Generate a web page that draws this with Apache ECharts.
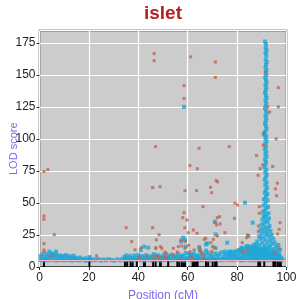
<!DOCTYPE html>
<html lang="en">
  <head>
    <meta charset="UTF-8" />
    <title>islet</title>
    <style type="text/css">
      body { margin: 0; background-color: #fff; }
      #main { width: 296px; height: 299px; }
    </style>
  </head>
  <body>
    <div id="main"></div>
    <script src="https://cdn.jsdelivr.net/npm/echarts@6/dist/echarts.min.js"></script>
    <script type="text/javascript">
      // marker positions (rug along the bottom)
      var rugPos = [1.8, 20.2, 34.6, 35.5, 36.9, 37.7, 39.4, 42.3, 42.7, 46, 47, 48.8, 49.1, 52.1,
        55.8, 56.6, 57.6, 58.2, 58.9, 62, 62.6, 63.4, 64, 67.4, 68.3, 70.1, 71.1, 71.7,
        88.6, 89.3, 91, 94.7, 95.3, 96.3, 97.1, 97.7];

      // low LOD band, blue
      var blueBand = [
        [0.5,5.5],[0.5,8.5],[1.2,6.2],[1.2,9.8],[2,5],[2,7.8],[2.8,6.5],[2.8,10.2],[3.5,5.3],[3.5,8.1],
        [4.3,6.8],[4.3,9.4],[5.1,5.6],[5.1,10.5],[5.9,7.2],[5.9,8.8],[6.7,5.1],[6.7,9.6],[7.5,6.3],[7.5,8.2],
        [8.3,5.4],[8.3,9],[9.1,6.9],[9.1,7.9],[9.9,5.2],[9.9,8.6],[10.7,6],[10.7,9.3],[11.5,5.5],[11.5,7.6],
        [12.3,6.6],[12.3,8.4],[13.1,5],[13.1,7.2],[13.9,6.2],[13.9,8.8],[14.7,5.4],[14.7,7],[15.5,6],
        [16.3,5.2],[16.3,7.4],[17.1,6.3],[17.9,5.6],[18.7,6.8],[18.7,4.9],[19.5,5.5],[20.3,6.4],[20.3,7.8],
        [21.1,5.1],[21.9,6],[22.8,5.4],[23.8,6.2],[24.8,5],[25.8,5.8],[26.9,5.3],[28,6.1],[29.1,5.5],
        [30.3,5],[31.5,5.9],[32.6,5.3],[33.6,6.4],[34.4,5.2],[34.4,7.8],[35.2,6.1],[35.2,9],[36,5.4],[36,7.3],
        [36.8,6.6],[36.8,8.5],[37.6,5.1],[37.6,7],[38.4,6],[38.4,8.9],[39.2,5.6],[39.2,7.6],[40,6.8],[40,9.5],
        [40.8,5.3],[40.8,7.9],[41.6,6.4],[41.6,8.4],[42.4,5],[42.4,7.1],[43.2,6.2],[43.2,9.2],[44,5.7],[44,8],
        [44.8,6.9],[44.8,7.4],[45.6,5.2],[45.6,8.7],[46.4,6.5],[46.4,10],[47.2,5.5],[47.2,7.7],[48,6.1],[48,9.1],
        [48.8,5],[48.8,8.2],[49.6,6.7],[49.6,7.3],[50.4,5.4],[50.4,9.4],[51.2,6.3],[51.2,8],[52,5.8],[52,7.2],
        [52.8,6.6],[52.8,8.8],[53.6,5.1],[53.6,9.6],[54.4,6],[54.4,7.5],[55.2,5.6],[55.2,8.4],[56,6.9],[56,10.1],
        [56.8,5.3],[56.8,7.8],[57.6,6.2],[57.6,9],[58.4,5],[58.4,8.3],[59.2,6.4],[59.2,11],[60,5.7],[60,7.4],
        [60.8,6.8],[60.8,9.3],[61.6,5.2],[61.6,8.1],[62.4,6.1],[62.4,10.4],[63.2,5.5],[63.2,7.6],[64,6.7],[64,9],
        [64.8,5.9],[64.8,8.2],[65.6,5.3],[65.6,10.8],[66.4,6.4],[66.4,7.9],[67.2,5.6],[67.2,9.5],[68,6.2],[68,11.2],
        [68.8,5.1],[68.8,8.4],[69.6,6.8],[69.6,9.8],[70.4,5.4],[70.4,7.7],[71.2,6],[71.2,10.6],[72,5.8],[72,8.6],
        [72.8,6.5],[72.8,9.9],[73.6,5.2],[73.6,11.4],[74.4,6.3],[74.4,8],[75.2,5.7],[75.2,10.2],[76,6.9],[76,8.8],
        [76.8,5.5],[76.8,11.8],[76.8,9.6],[77.6,6.2],[77.6,7.9],[77.6,10.9],[78.4,5.3],[78.4,8.6],[78.4,12],
        [79.2,6.6],[79.2,9.4],[79.2,11.2],[80,5.8],[80,8.1],[80,12.6],[80.8,6.4],[80.8,10],[80.8,13.1],
        [81.6,5.1],[81.6,7.6],[81.6,11.6],[81.6,14],[82.4,6],[82.4,9.2],[82.4,12.8],[83.2,5.5],[83.2,8.3],
        [83.2,10.7],[83.2,14.5],[84,6.7],[84,9.7],[84,12.2],[84,15.2],[85,5.4],[85,8],[85,11],[85,13.8],[85,16],
        [85.8,6.3],[85.8,9.5],[85.8,12.4],[85.8,15],[86.6,5.2],[86.6,7.8],[86.6,10.6],[86.6,13.4],[86.6,17],
        [87.4,6.6],[87.4,9],[87.4,12],[87.4,14.6],[88.2,5.6],[88.2,8.4],[88.2,11.3],[88.2,15.8],[89,6.2],[89,9.6],
        [89,13],[89.8,5.1],[89.8,7.4],[89.8,11],[89.8,14],[90.6,6.8],[90.6,8.8],[90.6,12.6],[91.4,5.4],[91.4,10.2],
        [91.4,13.6],[92.2,6],[92.2,8],[92.2,11.8],[93,5.3],[93,9.4],[93,13.2],[93,15.6],[93.8,6.5],[93.8,7.6],
        [93.8,10.8],[94.6,5.8],[94.6,8.9],[94.6,12.4],[95.4,6.3],[95.4,9.9],[96.2,5.5],[96.2,8.2],[96.2,11.5],
        [97,6.9],[97,9],[97.8,5.2],[97.8,7.5],[98.4,6]
      ];

      // the peak near the end of the chromosome, blue
      var bluePeak = [
        [91.3,176],[91.7,174],[91.6,171],[91.9,169],[91.5,167],[91.8,165],[91.6,162],[92,160],[91.7,158],[91.5,156],
        [91.9,154],[91.6,152],[91.8,150],[91.4,148],[91.7,146],[91.9,144],[91.5,142],[91.8,140],[91.6,138],[91.3,136],
        [91.7,134],[91.9,132],[91.5,130],[91.8,128],[91.6,126],[91.3,124],[91.7,122],[92,120],[91.5,118],[91.8,116],
        [91.6,114],[91.3,112],[91.7,110],[91.9,108],[91.5,106],[90.8,104],[91.2,103],[91.8,102],[91.5,100],[91.9,98],
        [91.4,96],[91.7,94],[91.2,92],[91.8,90],[91.5,88],[91.9,86],[91.3,84],[91.7,82],[91.5,80],[91.1,78],
        [91.8,76],[91.4,74],[92,72],[91.6,70],[91.2,68],[91.9,66],[91.4,64],[92.1,62],[91.6,60],[91.2,58],
        [92.2,57],[91.7,55],[90.9,53],[92.3,52],[91.5,50],[90.7,48],[92.5,47],[91.8,46],[91.2,44],[90.5,43],
        [92.7,42],[91.9,41],[90.8,40],[91.4,39],[92.9,38],[90.2,37],[91.7,36],[92.4,35],[90.9,34],[89.9,33],
        [93.1,32],[91.5,31],[92.6,30],[90.4,30],[89.5,29],[93.5,28],[91.1,28],[92.2,27],[90,26],[94,25],
        [91.8,25],[88.9,24],[92.9,24],[90.6,23],[94.6,22],[89.5,22],[91.5,21],[93.4,21],[88.2,20],[95.2,19],
        [90.2,19],[92.4,19],[87.6,18],[94.1,18],[91.2,17],[89,17],[93.2,16],[95.8,16],[87,15],[90.5,15],
        [92,14.5],[94.7,14],[88.2,14],[86.2,13],[96.2,13],[91.3,12.5],[89.4,12],[93.6,12],[85.4,11.5],[87.7,11],
        [95.3,11],[92.5,10.5],[90.4,10],[97,10],[84.6,10],[88.9,9.5],[94.2,9.5],[86.6,9],[91.6,9],[96,8.5]
      ];

      // scattered blue points off the band
      var blueOut = [
        [58.5,125],[4,12],[6.7,12],[4.9,9.9],[58.2,22.9],[57.3,19.8],[59.2,15.9],[42.3,15.9],[44,15.1],[41,13.3],
        [67.9,18.5],[67.4,12.8],[65,12.8],[60.5,10.7],[61.6,9.4],[63.6,8.6],[83.2,50.2],[71.3,25.5],[86.3,34.6],
        [84.5,24.2],[67.4,17.7],[76,19],[70.8,15.1],[75.1,12],[77.1,12],[81.2,13.3],[85.9,14.6],[96.7,17.2],
        [97.4,13.3],[71,35.4],[58.9,21],[81.9,15.1],[83.9,16.4],[64.7,14.6]
      ];

      // second group, red-brown
      var redPts = [
        [1.8,74.5],[3.4,76],[1.8,39.8],[1.8,37.2],[6,25.3],[1.8,18.3],[1.8,13.3],[1.8,12],[4.9,8.6],[23.1,8.8],
        [35.1,30.7],[37.3,19.8],[38.7,13.4],[41.1,15.1],[40.4,7.6],[43.4,8.6],[45.8,30.7],[45.8,62],[48.8,62.7],
        [46.4,166.6],[46.4,161],[47,94],[48.4,25.3],[47.3,21.2],[47.2,15],[49,15.9],[49.5,14.6],[47,14.6],
        [50.8,11.7],[51.5,10.5],[47.2,8.6],[46.1,6.8],[48.5,7.6],[51.5,6.8],[50.8,7.6],[54.2,14.6],[55.8,11.7],
        [54.2,9.4],[56.2,15.9],[57.6,16.4],[57.3,21.1],[59,19.8],[60.4,17],[58.9,14.6],[56.9,6],[60.9,12],
        [62.6,13.3],[61.6,7.6],[65,12.8],[64.7,15.9],[66.1,9.4],[66.3,6.8],[65.7,10.7],[58.8,30.7],[60.2,26.8],
        [62.3,28.9],[63.8,26.3],[67.3,22.4],[66.7,21.6],[58,38.5],[59.7,36.7],[58.5,42.4],[66.2,47.1],[58.9,59.6],
        [63.6,59.6],[61.2,164],[71.2,160],[71.2,148],[58.5,141.6],[58.5,131.5],[64.6,92.7],[76.8,94],[60.9,79.1],
        [63.9,76.7],[71.5,67.4],[72.1,66.5],[69.2,62.2],[69.7,58],[72,38.5],[72.9,39.3],[71.1,34.6],[71.7,32.8],
        [73.1,33.6],[78.9,38],[79.1,49.8],[80.2,48.4],[75.1,26.8],[72,24.2],[70.4,21.6],[69.4,19],[70.1,15.9],
        [71.5,14.6],[69.7,12],[84.3,25],[83.9,22.9],[82.1,19],[82.5,12],[84.5,13.3],[88.6,32],[88.6,27.6],
        [89,47.1],[89,42],[87.9,87],[89.3,76.8],[88.5,71.6],[90.4,79.7],[94.4,78.4],[96.7,140],[96.7,125],
        [93.2,121],[95.8,100],[96.3,65.4],[95.5,61],[96,55.6],[97.4,34.6],[97,29.4],[96.4,25.8],[97,14.6],
        [95.3,10.2],[91.5,152],[91,105],[92.4,125],[90.6,95]
      ];

      var yTicks = [0, 25, 50, 75, 100, 125, 150, 175];
      var xTicks = [0, 20, 40, 60, 80, 100];

      var chart = echarts.init(document.getElementById("main"), null, { renderer: "canvas" });

      var option = {
        animation: false,
        backgroundColor: "#fff",
        title: {
          text: "islet",
          left: 163,
          top: 4,
          padding: 0,
          textAlign: "center",
          textStyle: { color: "#b22222", fontSize: 19, fontWeight: "bold", fontFamily: "Liberation Sans, Arial, sans-serif" }
        },
        grid: {
          left: 39.5, right: 9.5, top: 30.5, bottom: 32,
          containLabel: false, outerBoundsMode: "none",
          show: true, backgroundColor: "#cccccc", borderColor: "#1a1a1a", borderWidth: 1.5
        },
        xAxis: {
          type: "value", min: 0, max: 100, interval: 20,
          name: "Position (cM)", nameLocation: "middle", nameGap: 23, nameMoveOverlap: false,
          nameTextStyle: { color: "#7b68ee", fontSize: 12, fontFamily: "Liberation Sans, Arial, sans-serif" },
          axisLine: { show: false },
          axisTick: { show: true, length: 3, lineStyle: { color: "#333" } },
          axisLabel: { color: "#222", fontSize: 12, margin: 5, fontFamily: "Liberation Sans, Arial, sans-serif",
            formatter: function (v) { return xTicks.indexOf(v) >= 0 ? String(v) : ""; } },
          splitLine: { show: true, lineStyle: { color: "#ffffff", width: 1.2 } }
        },
        yAxis: {
          type: "value", min: 0, max: 184.6, interval: 25,
          name: "LOD score", nameLocation: "middle", nameGap: 20, nameRotate: 90, nameMoveOverlap: false,
          nameTextStyle: { color: "#7b68ee", fontSize: 11, fontFamily: "Liberation Sans, Arial, sans-serif" },
          axisLine: { show: false },
          axisTick: { show: true, length: 3, lineStyle: { color: "#333" } },
          axisLabel: { color: "#222", fontSize: 12, margin: 4, showMaxLabel: false, fontFamily: "Liberation Sans, Arial, sans-serif",
            formatter: function (v) { return yTicks.indexOf(v) >= 0 ? String(v) : ""; } },
          splitLine: { show: true, lineStyle: { color: "#ffffff", width: 1.2 } }
        },
        series: [
          {
            type: "scatter", data: [], silent: true,
            markLine: { silent: true, symbol: "none", label: { show: false },
              lineStyle: { color: "#f2b8c6", width: 1, type: "solid" }, data: [{ yAxis: 5 }] }
          },
          {
            type: "scatter", symbol: "rect", symbolSize: 4, silent: true,
            itemStyle: { color: "#1ca8d8" },
            data: blueBand.concat(bluePeak, blueOut)
          },
          {
            type: "scatter", symbol: "rect", symbolSize: 3, silent: true,
            itemStyle: { color: "#c0644c" },
            data: redPts
          },
          {
            type: "custom", silent: true,
            data: rugPos.map(function (v) { return [v, 0]; }),
            encode: { x: 0, y: 1 },
            renderItem: function (params, api) {
              var p = api.coord([api.value(0), 0]);
              return { type: "rect", shape: { x: p[0] - 1, y: p[1] - 8, width: 2, height: 8 }, style: { fill: "#000" } };
            }
          }
        ]
      };

      chart.setOption(option);
    </script>
  </body>
</html>
